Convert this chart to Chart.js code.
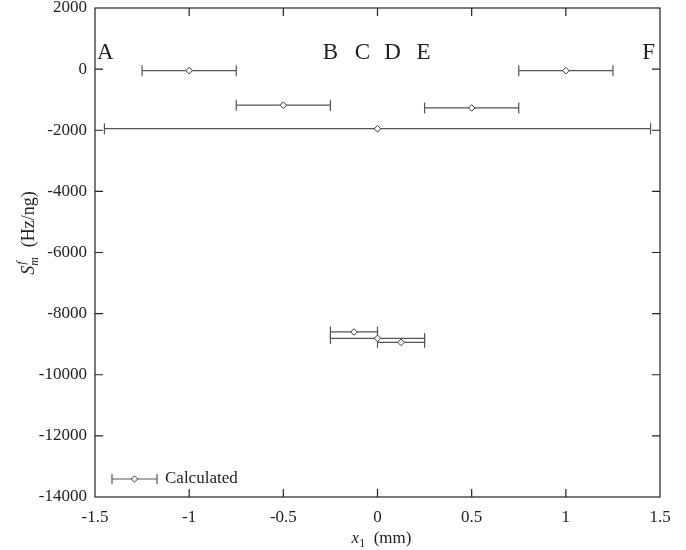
<!DOCTYPE html>
<html><head><meta charset="utf-8">
<script src="https://cdn.jsdelivr.net/npm/chart.js@4.4.1/dist/chart.umd.min.js"></script>
<style>html,body{margin:0;padding:0;background:#fff}</style>
</head><body>
<canvas id="c" width="686" height="550"></canvas>
<script>
// ---- data ----
const xValues = [-1, -0.5, 0, 0.5, 1, -0.125, 0, 0.125];
const yValues = [-50, -1180, -1950, -1270, -50, -8600, -8810, -8940];
const xErrors = [0.25, 0.25, 1.45, 0.25, 0.25, 0.125, 0.25, 0.125];
const regionLabels = ['A', 'B', 'C', 'D', 'E', 'F'];
const regionX = [-1.445, -0.25, -0.08, 0.08, 0.245, 1.44];
const regionY = 520;
const xTicks = [-1.5, -1, -0.5, 0, 0.5, 1, 1.5];
const yTicks = [2000, 0, -2000, -4000, -6000, -8000, -10000, -12000, -14000];
const seriesName = 'Calculated';

const FONT = "'Liberation Serif', 'Times New Roman', serif";
const AXIS = '#222';
const BAR = '#555';

const points = xValues.map((x, i) => ({x: x, y: yValues[i]}));

const errorBars = {
  id: 'errorBars',
  beforeDatasetsDraw(chart) {
    const {ctx, scales: {x, y}} = chart;
    ctx.save();
    ctx.strokeStyle = BAR; ctx.lineWidth = 1.2;
    xValues.forEach((v, i) => {
      const py = y.getPixelForValue(yValues[i]);
      const x0 = x.getPixelForValue(v - xErrors[i]);
      const x1 = x.getPixelForValue(v + xErrors[i]);
      ctx.beginPath();
      ctx.moveTo(x0, py); ctx.lineTo(x1, py);
      ctx.moveTo(x0, py - 5.5); ctx.lineTo(x0, py + 5.5);
      ctx.moveTo(x1, py - 5.5); ctx.lineTo(x1, py + 5.5);
      ctx.stroke();
    });
    ctx.restore();
  }
};

const frameAndTexts = {
  id: 'frameAndTexts',
  afterDraw(chart) {
    const {ctx, chartArea: a, scales: {x, y}} = chart;
    ctx.save();
    // frame
    ctx.strokeStyle = AXIS; ctx.lineWidth = 1.2;
    ctx.strokeRect(a.left, a.top, a.right - a.left, a.bottom - a.top);
    // inward ticks
    const tl = 8;
    ctx.beginPath();
    xTicks.forEach(t => {
      const px = x.getPixelForValue(t);
      if (Math.abs(px - a.left) < 1 || Math.abs(px - a.right) < 1) return;
      ctx.moveTo(px, a.bottom); ctx.lineTo(px, a.bottom - tl);
      ctx.moveTo(px, a.top); ctx.lineTo(px, a.top + tl);
    });
    yTicks.forEach(t => {
      const py = y.getPixelForValue(t);
      if (Math.abs(py - a.top) < 1 || Math.abs(py - a.bottom) < 1) return;
      ctx.moveTo(a.left, py); ctx.lineTo(a.left + tl, py);
      ctx.moveTo(a.right, py); ctx.lineTo(a.right - tl, py);
    });
    ctx.stroke();

    // region letters
    ctx.fillStyle = '#222';
    ctx.font = '23px ' + FONT;
    ctx.textAlign = 'center'; ctx.textBaseline = 'middle';
    regionLabels.forEach((l, i) => {
      ctx.fillText(l, x.getPixelForValue(regionX[i]), y.getPixelForValue(regionY));
    });

    // legend
    const ly = a.bottom - 18;
    const lx0 = a.left + 17, lx1 = a.left + 62;
    ctx.strokeStyle = BAR; ctx.lineWidth = 1.2;
    ctx.beginPath();
    ctx.moveTo(lx0, ly); ctx.lineTo(lx1, ly);
    ctx.moveTo(lx0, ly - 5); ctx.lineTo(lx0, ly + 5);
    ctx.moveTo(lx1, ly - 5); ctx.lineTo(lx1, ly + 5);
    ctx.stroke();
    const mx = (lx0 + lx1) / 2, r = 3.2;
    ctx.beginPath();
    ctx.moveTo(mx, ly - r); ctx.lineTo(mx + r, ly); ctx.lineTo(mx, ly + r); ctx.lineTo(mx - r, ly); ctx.closePath();
    ctx.fillStyle = '#fff'; ctx.fill(); ctx.strokeStyle = '#333'; ctx.lineWidth = 1; ctx.stroke();
    ctx.fillStyle = '#222';
    ctx.font = '17px ' + FONT;
    ctx.textAlign = 'left'; ctx.textBaseline = 'middle';
    ctx.fillText(seriesName, lx1 + 8, ly);

    // x title: x_1 (mm)
    const big = '17px ' + FONT, bigI = 'italic 17px ' + FONT, small = '12px ' + FONT, smallI = 'italic 12px ' + FONT;
    const bigY = '18px ' + FONT, bigYI = 'italic 18px ' + FONT;
    ctx.textBaseline = 'alphabetic';
    const parts = [[bigI, 'x', 0], [small, '1', 4], [big, '  (mm)', 0]];
    let w = 0;
    parts.forEach(p => { ctx.font = p[0]; w += ctx.measureText(p[1]).width; });
    let cx = (a.left + a.right) / 2 + 4 - w / 2;
    const by = 543;
    parts.forEach(p => { ctx.font = p[0]; ctx.fillText(p[1], cx, by + p[2]); cx += ctx.measureText(p[1]).width; });

    // y title: S_m^f (Hz/ng)
    ctx.save();
    ctx.translate(34, 233);
    ctx.rotate(-Math.PI / 2);
    ctx.font = bigYI; const wS = ctx.measureText('S').width;
    ctx.font = smallI; const wm = ctx.measureText('m').width;
    ctx.font = bigY; const wr = ctx.measureText('  (Hz/ng)').width;
    let sx = -(wS + wm + 1 + wr) / 2;
    ctx.font = bigYI; ctx.fillText('S', sx, 0); sx += wS;
    ctx.font = smallI; ctx.fillText('f', sx + 1, -9); ctx.fillText('m', sx, 4); sx += wm + 1;
    ctx.font = bigY; ctx.fillText('  (Hz/ng)', sx, 0);
    ctx.restore();

    ctx.restore();
  }
};

new Chart(document.getElementById('c'), {
  type: 'scatter',
  data: {
    datasets: [{
      label: seriesName,
      data: points,
      pointStyle: 'rectRot',
      pointRadius: 3.3,
      pointHoverRadius: 3.3,
      backgroundColor: '#fff',
      borderColor: '#333',
      borderWidth: 1,
      showLine: false
    }]
  },
  options: {
    responsive: false,
    animation: false,
    events: [],
    layout: {padding: {top: 8, right: 26, left: 0, bottom: 0}},
    plugins: {legend: {display: false}, tooltip: {enabled: false}},
    scales: {
      x: {
        type: 'linear', min: -1.5, max: 1.5,
        afterBuildTicks: s => { s.ticks = xTicks.map(v => ({value: v})); },
        afterFit: s => { s.height = 53; s.paddingLeft = 0; s.paddingRight = 0; },
        grid: {display: false, drawTicks: false},
        border: {display: false},
        ticks: {font: {family: FONT, size: 17}, color: '#222', padding: 10, maxRotation: 0,
                callback: v => String(v)}
      },
      y: {
        type: 'linear', min: -14000, max: 2000,
        afterBuildTicks: s => { s.ticks = yTicks.map(v => ({value: v})); },
        afterFit: s => { s.width = 95; s.paddingTop = 0; s.paddingBottom = 0; },
        grid: {display: false, drawTicks: false},
        border: {display: false},
        ticks: {font: {family: FONT, size: 17}, color: '#222', padding: 8,
                callback: v => String(v)}
      }
    }
  },
  plugins: [errorBars, frameAndTexts]
});
</script>
</body></html>
